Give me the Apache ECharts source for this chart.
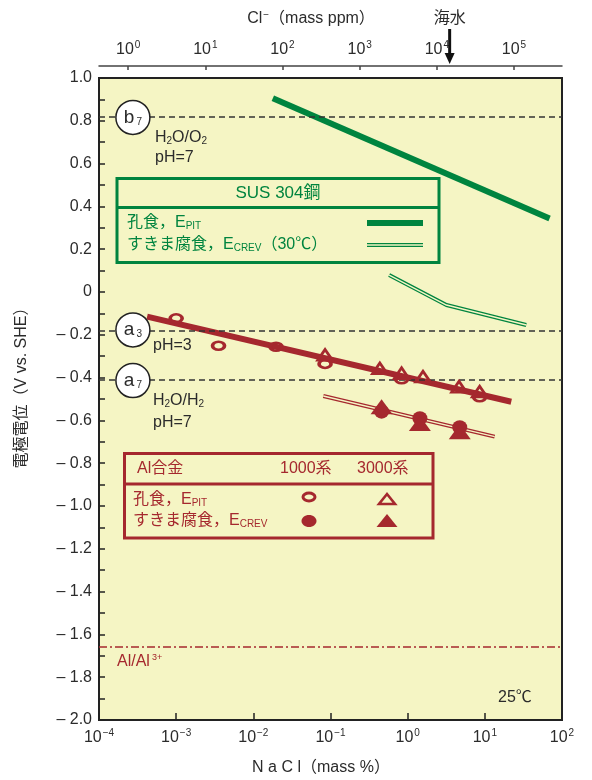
<!DOCTYPE html>
<html>
<head>
<meta charset="utf-8">
<script src="https://cdn.jsdelivr.net/npm/echarts@6/dist/echarts.min.js"></script>
<style>
  html, body { margin: 0; padding: 0; background: #ffffff; }
  #chart { width: 592px; height: 780px; }
</style>
</head>
<body>
<div id="chart"></div>
<script>
// NaCl concentration (mass %) and electrode potential (V vs. SHE)

// SUS 304 stainless steel
const susPitNaCl = [0.0179, 69];
const susPitE = [0.905, 0.344];
const susCrevNaCl = [0.575, 3.18, 34.4];
const susCrevE = [0.079, -0.061, -0.154];

// Al alloys: fitted lines
const alPitLineNaCl = [4.2e-4, 22];
const alPitLineE = [-0.115, -0.513];
const alCrevLineNaCl = [0.0807, 13.4];
const alCrevLineE = [-0.486, -0.676];

// Al alloys: measured points
const al1000PitNaCl = [0.001, 0.00354, 0.0197, 0.085, 0.834, 8.57];
const al1000PitE = [-0.123, -0.251, -0.256, -0.336, -0.408, -0.492];
const al3000PitNaCl = [0.085, 0.436, 0.834, 1.58, 4.63, 8.57];
const al3000PitE = [-0.294, -0.357, -0.380, -0.396, -0.443, -0.466];
const al1000CrevNaCl = [0.459, 1.44, 4.73];
const al1000CrevE = [-0.559, -0.590, -0.632];
const al3000CrevNaCl = [0.459, 1.44, 4.73];
const al3000CrevE = [-0.536, -0.614, -0.653];

// Equilibrium potentials
const eqNames = ['b', 'a', 'a'];
const eqSubs = ['7', '3', '7'];
const eqE = [0.816, -0.177, -0.414];
const alAl3E = -1.66;
const seawaterNaCl = 3.5;

// Axis ticks
const clExponents = [0, 1, 2, 3, 4, 5];

const GREEN = '#00843f';
const RED = '#a5282e';
const BG = '#f5f5c4';
const INK = '#2b2b2b';
const FONT = '"Liberation Sans", "Noto Sans CJK JP", sans-serif';

const zip = (xs, ys) => xs.map((x, i) => [x, ys[i]]);

const supRich = {
  b: { fontSize: 16, color: INK, fontFamily: FONT },
  s: { fontSize: 10, color: INK, fontFamily: FONT, verticalAlign: 'bottom', padding: [0, 0, 9, 1] }
};
const powLabel = (n) => '{b|10}{s|' + (n < 0 ? '\u2212' + (-n) : n) + '}';

const chart = echarts.init(document.getElementById('chart'), null, { renderer: 'canvas' });

const grid = { left: 99, right: 30, top: 78, bottom: 60, show: true, backgroundColor: BG, borderColor: '#222', borderWidth: 2 };

const option = {
  backgroundColor: '#ffffff',
  animation: false,
  grid: grid,
  xAxis: [
    {
      type: 'log', min: 1e-4, max: 100, logBase: 10, position: 'bottom',
      axisLine: { show: true, onZero: false, lineStyle: { color: '#222', width: 2 } },
      axisTick: { show: true, inside: true, length: 7, lineStyle: { color: '#222', width: 1.5 } },
      minorTick: { show: false },
      splitLine: { show: false },
      axisLabel: {
        margin: 8,
        formatter: (v) => powLabel(Math.round(Math.log10(v))),
        rich: supRich
      }
    },
    {
      type: 'value', position: 'top', offset: 12,
      min: -0.378, max: 5.622,
      axisLine: { show: true, onZero: false, lineStyle: { color: '#444', width: 1.5 } },
      axisTick: { show: true, inside: true, length: 4, customValues: clExponents, lineStyle: { color: '#444', width: 1.5 } },
      splitLine: { show: false },
      axisLabel: {
        margin: 7,
        customValues: clExponents,
        formatter: (v) => powLabel(Math.round(v)),
        rich: supRich
      }
    }
  ],
  yAxis: {
    type: 'value', min: -2, max: 1, interval: 0.1, position: 'left',
    axisLine: { show: true, onZero: false, lineStyle: { color: '#222', width: 2 } },
    axisTick: { show: true, inside: true, length: 6, lineStyle: { color: '#222', width: 1.5 } },
    splitLine: { show: false },
    axisLabel: {
      margin: 7, color: INK, fontSize: 16, fontFamily: FONT,
      formatter: (v) => {
        const k = Math.round(v * 10);
        if (k % 2 !== 0) return '';
        if (k === 0) return '0';
        const r = k / 10;
        return r < 0 ? '\u2013 ' + (-r).toFixed(1) : r.toFixed(1);
      }
    }
  },
  series: [
    {
      // equilibrium reference lines
      type: 'line', data: [], silent: true,
      markLine: {
        symbol: 'none', silent: true, label: { show: false },
        data: eqE.map(e => ({ yAxis: e, lineStyle: { color: '#333', width: 1.5, type: [6, 4] } }))
          .concat([{ yAxis: alAl3E, lineStyle: { color: RED, width: 1.5, type: [8, 3, 2, 3] } }])
      }
    },
    {
      name: 'SUS 孔食', type: 'line', data: zip(susPitNaCl, susPitE),
      symbol: 'none', lineStyle: { color: GREEN, width: 6 }, z: 3
    },
    {
      name: 'SUS すきま腐食', type: 'line', data: zip(susCrevNaCl, susCrevE),
      symbol: 'none', lineStyle: { color: GREEN, width: 4 }, z: 3
    },
    {
      type: 'line', data: zip(susCrevNaCl, susCrevE),
      symbol: 'none', lineStyle: { color: BG, width: 1.4 }, z: 4
    },
    {
      name: 'Al 孔食', type: 'line', data: zip(alPitLineNaCl, alPitLineE),
      symbol: 'none', lineStyle: { color: RED, width: 6 }, z: 3
    },
    {
      name: 'Al すきま腐食', type: 'line', data: zip(alCrevLineNaCl, alCrevLineE),
      symbol: 'none', lineStyle: { color: RED, width: 4 }, z: 3
    },
    {
      type: 'line', data: zip(alCrevLineNaCl, alCrevLineE),
      symbol: 'none', lineStyle: { color: BG, width: 1.4 }, z: 4
    },
    {
      name: '1000系 孔食', type: 'scatter', data: zip(al1000PitNaCl, al1000PitE),
      symbol: 'circle', symbolSize: [12, 8],
      itemStyle: { color: 'rgba(0,0,0,0)', borderColor: RED, borderWidth: 3, opacity: 1 }, z: 5
    },
    {
      name: '3000系 孔食', type: 'scatter', data: zip(al3000PitNaCl, al3000PitE),
      symbol: 'triangle', symbolSize: [15, 11],
      itemStyle: { color: 'rgba(0,0,0,0)', borderColor: RED, borderWidth: 2.6, opacity: 1 }, z: 5
    },
    {
      name: '1000系 すきま腐食', type: 'scatter', data: zip(al1000CrevNaCl, al1000CrevE),
      symbol: 'circle', symbolSize: [15, 14],
      itemStyle: { color: RED, opacity: 1 }, z: 5
    },
    {
      name: '3000系 すきま腐食', type: 'scatter', data: zip(al3000CrevNaCl, al3000CrevE),
      symbol: 'triangle', symbolSize: [22, 15],
      itemStyle: { color: RED, opacity: 1 }, z: 5
    },
    {
      // circled reaction labels on the equilibrium lines
      type: 'scatter', z: 6, silent: true,
      data: eqE.map((e, i) => ({ value: [2.75e-4, e], label: { formatter: '{m|' + eqNames[i] + '}{s|' + eqSubs[i] + '}' } })),
      symbol: 'circle', symbolSize: 34,
      itemStyle: { color: '#ffffff', borderColor: '#222', borderWidth: 1.5, opacity: 1 },
      label: {
        show: true, position: 'inside',
        rich: {
          m: { fontSize: 19, color: INK, fontFamily: FONT },
          s: { fontSize: 10, color: INK, fontFamily: FONT, verticalAlign: 'bottom', padding: [0, 0, 0, 2] }
        }
      }
    }
  ]
};

chart.setOption(option);

// Annotations, legend panels and axis titles
const subRich = (color, size) => ({
  t: { fontSize: size, fill: color, fontFamily: FONT },
  s: { fontSize: Math.round(size * 0.65), fill: color, fontFamily: FONT, verticalAlign: 'bottom' }
});
function txt(x, y, text, color, size, extra) {
  return {
    type: 'text', z: 20,
    style: Object.assign({
      x: x, y: y, text: text, fill: color, fontSize: size, fontFamily: FONT,
      verticalAlign: 'middle', align: 'left', rich: subRich(color, size)
    }, extra || {})
  };
}

const seaX = chart.convertToPixel({ xAxisIndex: 0 }, seawaterNaCl);

const graphics = [
  // axis titles
  txt(311, 19, '{t|Cl}{u|\u2212}{t|（mass ppm）}', INK, 16, {
    align: 'center',
    rich: { t: { fontSize: 16, fill: INK, fontFamily: FONT }, u: { fontSize: 10, fill: INK, fontFamily: FONT, verticalAlign: 'bottom', padding: [0, 0, 8, 1] } }
  }),
  txt(321, 768, 'N a C l（mass %）', INK, 16, { align: 'center' }),
  {
    type: 'text', z: 20, x: 22, y: 384, rotation: Math.PI / 2,
    style: { x: 0, y: 0, text: '電極電位（V vs. SHE）', fill: INK, fontSize: 16, fontFamily: FONT, align: 'center', verticalAlign: 'middle' }
  },
  // seawater marker
  txt(seaX, 19, '海水', INK, 16, { align: 'center' }),
  { type: 'line', z: 20, shape: { x1: seaX, y1: 29, x2: seaX, y2: 56 }, style: { stroke: '#111', lineWidth: 3 } },
  { type: 'polygon', z: 20, shape: { points: [[seaX - 5, 53], [seaX + 5, 53], [seaX, 64]] }, style: { fill: '#111' } },

  // equilibrium line notes
  txt(155, 138, '{t|H}{s|2}{t|O/O}{s|2}', INK, 16),
  txt(155, 158, 'pH=7', INK, 16),
  txt(153, 346, 'pH=3', INK, 16),
  txt(153, 401, '{t|H}{s|2}{t|O/H}{s|2}', INK, 16),
  txt(153, 423, 'pH=7', INK, 16),
  txt(117, 662, '{t|Al/Al}{u|3+}', RED, 16, {
    rich: { t: { fontSize: 16, fill: RED, fontFamily: FONT }, u: { fontSize: 9, fill: RED, fontFamily: FONT, verticalAlign: 'bottom', padding: [0, 0, 8, 2] } }
  }),
  txt(498, 698, '25℃', INK, 16),

  // SUS 304 legend panel
  { type: 'rect', z: 19, shape: { x: 117, y: 178.5, width: 322, height: 84 }, style: { fill: BG, stroke: GREEN, lineWidth: 3 } },
  { type: 'line', z: 20, shape: { x1: 117, y1: 207.5, x2: 439, y2: 207.5 }, style: { stroke: GREEN, lineWidth: 3 } },
  txt(278, 193, 'SUS 304鋼', GREEN, 17, { align: 'center' }),
  txt(127, 223, '{t|孔食，E}{s|PIT}', GREEN, 16),
  txt(127, 245, '{t|すきま腐食，E}{s|CREV}{t|（30℃）}', GREEN, 16),
  { type: 'line', z: 20, shape: { x1: 367, y1: 223, x2: 423, y2: 223 }, style: { stroke: GREEN, lineWidth: 6 } },
  { type: 'line', z: 20, shape: { x1: 367, y1: 245, x2: 423, y2: 245 }, style: { stroke: GREEN, lineWidth: 4 } },
  { type: 'line', z: 21, shape: { x1: 366, y1: 245, x2: 424, y2: 245 }, style: { stroke: BG, lineWidth: 1.4 } },

  // Al alloy legend panel
  { type: 'rect', z: 19, shape: { x: 124.5, y: 453.5, width: 308.5, height: 84.5 }, style: { fill: BG, stroke: RED, lineWidth: 3 } },
  { type: 'line', z: 20, shape: { x1: 124.5, y1: 484, x2: 433, y2: 484 }, style: { stroke: RED, lineWidth: 3 } },
  txt(137, 469, 'Al合金', RED, 16),
  txt(280, 469, '1000系', RED, 16),
  txt(357, 469, '3000系', RED, 16),
  txt(133, 500, '{t|孔食，E}{s|PIT}', RED, 16),
  txt(133, 521, '{t|すきま腐食，E}{s|CREV}', RED, 16),
  { type: 'ellipse', z: 20, shape: { cx: 309, cy: 497, rx: 6, ry: 4 }, style: { fill: 'none', stroke: RED, lineWidth: 3 } },
  { type: 'polygon', z: 20, shape: { points: [[379, 504], [395, 504], [387, 494]] }, style: { fill: 'none', stroke: RED, lineWidth: 2.6 } },
  { type: 'ellipse', z: 20, shape: { cx: 309, cy: 521, rx: 7.5, ry: 6 }, style: { fill: RED } },
  { type: 'polygon', z: 20, shape: { points: [[376.5, 527], [397.5, 527], [387, 514]] }, style: { fill: RED } }
];

chart.setOption({ graphic: graphics });
</script>
</body>
</html>
